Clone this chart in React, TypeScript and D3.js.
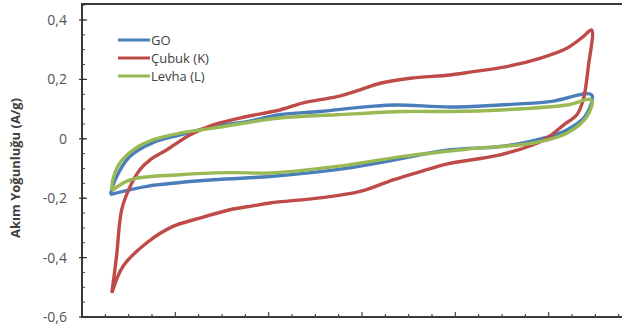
import * as d3 from 'd3';
import React, { useEffect, useRef } from 'react';

// Cyclic voltammetry loops, [potential, current density]
// forward scan (upper) then reverse scan (lower)
const goScan: [number, number][] = [
  [0.061, -0.188], [0.071, -0.138], [0.103, -0.059], [0.152, -0.013], [0.21, 0.013],
  [0.281, 0.041], [0.353, 0.058], [0.424, 0.081], [0.51, 0.092], [0.617, 0.109],
  [0.674, 0.114], [0.789, 0.107], [0.896, 0.114], [1.003, 0.125], [1.092, 0.148],
  [1.078, 0.075], [1.039, 0.03], [0.989, 0.002], [0.896, -0.026], [0.789, -0.037],
  [0.653, -0.076], [0.546, -0.104], [0.403, -0.127], [0.281, -0.138], [0.139, -0.16],
  [0.06, -0.188],
];

const cubukScan: [number, number][] = [
  [0.064, -0.519], [0.074, -0.395], [0.085, -0.239], [0.103, -0.161], [0.124, -0.104],
  [0.146, -0.071], [0.182, -0.037], [0.231, 0.013], [0.281, 0.047], [0.353, 0.075],
  [0.424, 0.097], [0.474, 0.121], [0.546, 0.142], [0.596, 0.165], [0.639, 0.187],
  [0.703, 0.204], [0.789, 0.215], [0.838, 0.226], [0.91, 0.243], [0.981, 0.271],
  [1.039, 0.305], [1.074, 0.344], [1.092, 0.366],
  [1.085, 0.243], [1.074, 0.131], [1.06, 0.08], [1.035, 0.05], [0.996, 0.002],
  [0.967, -0.02], [0.896, -0.054], [0.781, -0.085], [0.739, -0.104], [0.667, -0.138],
  [0.596, -0.177], [0.51, -0.199], [0.403, -0.216], [0.366, -0.226], [0.317, -0.239],
  [0.246, -0.27], [0.195, -0.295], [0.139, -0.35], [0.088, -0.429], [0.064, -0.519],
];

const levhaScan: [number, number][] = [
  [0.064, -0.175], [0.066, -0.138], [0.081, -0.082], [0.11, -0.037], [0.153, -0.003],
  [0.21, 0.019], [0.281, 0.036], [0.424, 0.07], [0.546, 0.081], [0.689, 0.092],
  [0.789, 0.092], [0.896, 0.097], [1.039, 0.114], [1.092, 0.131],
  [1.082, 0.075], [1.039, 0.019], [0.967, -0.014], [0.824, -0.035], [0.689, -0.059],
  [0.546, -0.093], [0.403, -0.115], [0.317, -0.114], [0.21, -0.121], [0.103, -0.138],
  [0.064, -0.175],
];

const seriesNames = ['GO', 'Çubuk (K)', 'Levha (L)'];
const seriesColors = ['#4A7EBB', '#BE4B48', '#98B954'];
const yTickValues = [-0.6, -0.4, -0.2, 0, 0.2, 0.4];

const W = 622;
const H = 334;

const App = () => {
  const ref = useRef<SVGSVGElement>(null);

  useEffect(() => {
    const svg = d3.select(ref.current);
    svg.selectAll('*').remove();

    const left = 82, top = 4, bottom = 317;
    const x = d3.scaleLinear().domain([0, 1.2]).range([left, left + 560]);
    const y = d3.scaleLinear().domain([-0.6, 0.4]).range([bottom, 20]);

    svg.append('rect').attr('width', W).attr('height', H).attr('fill', '#fff');

    // curves
    const line = d3.line<[number, number]>()
      .x(d => x(d[0]))
      .y(d => y(d[1]))
      .curve(d3.curveCatmullRom.alpha(0.5));

    [goScan, cubukScan, levhaScan].forEach((s, i) => {
      svg.append('path')
        .attr('d', line(s))
        .attr('fill', 'none')
        .attr('stroke', seriesColors[i])
        .attr('stroke-width', 3.4)
        .attr('stroke-linejoin', 'round');
    });

    // frame
    svg.append('rect')
      .attr('x', left).attr('y', top)
      .attr('width', 600).attr('height', bottom - top)
      .attr('fill', 'none').attr('stroke', '#3a3a3a').attr('stroke-width', 2);

    // y ticks
    const yMinor = d3.range(-0.6, 0.451, 0.05);
    svg.selectAll('.ymin').data(yMinor).enter().append('line')
      .attr('x1', left).attr('x2', left + 3)
      .attr('y1', d => y(d)).attr('y2', d => y(d))
      .attr('stroke', '#444').attr('stroke-width', 1);
    svg.selectAll('.ymaj').data(yTickValues).enter().append('line')
      .attr('x1', left - 3).attr('x2', left + 5)
      .attr('y1', d => y(d)).attr('y2', d => y(d))
      .attr('stroke', '#333').attr('stroke-width', 1.2);
    svg.selectAll('.ylab').data(yTickValues).enter().append('text')
      .attr('x', 67).attr('y', d => y(d))
      .attr('dy', '0.35em')
      .attr('text-anchor', 'end')
      .attr('font-family', 'Open Sans')
      .attr('font-size', 14)
      .attr('fill', '#555')
      .text(d => d === 0 ? '0' : d3.format('.1f')(d).replace('.', ',').replace('−', '-'));

    // x ticks
    const xMinor = d3.range(0.05, 1.2, 0.05);
    svg.selectAll('.xmin').data(xMinor).enter().append('line')
      .attr('x1', d => x(d)).attr('x2', d => x(d))
      .attr('y1', bottom).attr('y2', d => Math.abs(d / 0.2 - Math.round(d / 0.2)) < 1e-6 ? bottom - 5 : bottom - 3)
      .attr('stroke', '#444').attr('stroke-width', 1.2);

    // axis title
    svg.append('text')
      .attr('transform', 'translate(20,168) rotate(-90)')
      .attr('text-anchor', 'middle')
      .attr('font-family', 'Open Sans')
      .attr('font-weight', 'bold')
      .attr('font-size', 13)
      .attr('fill', '#404040')
      .text('Akım Yoğunluğu (A/g)');

    // legend
    seriesNames.forEach((name, i) => {
      const ly = 40 + i * 18;
      svg.append('line')
        .attr('x1', 118).attr('x2', 150).attr('y1', ly).attr('y2', ly)
        .attr('stroke', seriesColors[i]).attr('stroke-width', 3);
      svg.append('text')
        .attr('x', 151).attr('y', ly).attr('dy', '0.35em')
        .attr('font-family', 'Open Sans')
        .attr('font-size', 13)
        .attr('fill', '#404040')
        .text(name);
    });
  }, []);

  return (
    <div style={{ position: 'absolute', left: 0, top: 0 }}>
      <svg ref={ref} width={W} height={H} style={{ display: 'block' }} />
    </div>
  );
};

export default App;
